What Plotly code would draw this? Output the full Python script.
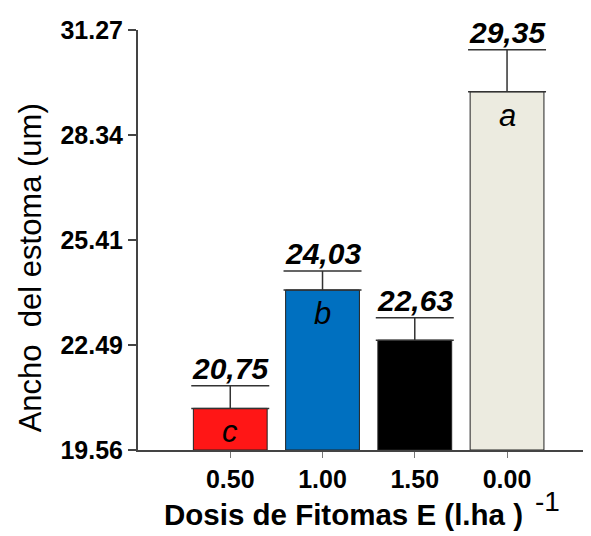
import plotly.graph_objects as go

# treatments (dose l/ha) and stomata width means
dosis = ['0.50', '1.00', '1.50', '0.00']
ancho = [20.72, 24.02, 22.62, 29.55]
error = [0.63, 0.53, 0.63, 1.17]
letras = ['c', 'b', '', 'a']
etiquetas = ['20,75', '24,03', '22,63', '29,35']
colores = ['#FF1616', '#0070C0', '#000000', '#ECEBE0']
yticks = [19.56, 22.49, 25.41, 28.34, 31.27]

pos = [1, 2, 3, 4]
FONT = 'Liberation Sans, Arial'

fig = go.Figure()
fig.add_trace(go.Bar(
    x=pos, y=[v - yticks[0] for v in ancho], base=yticks[0],
    width=0.8,
    marker=dict(color=colores, line=dict(color='#222222', width=1)),
    error_y=dict(type='data', array=error, symmetric=False, arrayminus=[0] * 4,
                 color='#333333', thickness=1.5, width=39),
    hoverinfo='skip',
))

# mean values above the error bars (the cap works as the underline)
for p, v, e, t in zip(pos, ancho, error, etiquetas):
    fig.add_annotation(x=p, y=v + e, text='<b><i>' + t + '</i></b>', showarrow=False,
                       yanchor='bottom', yshift=-1,
                       font=dict(family=FONT, size=30, color='black'))

# significance letters inside the bars
for p, v, l in zip(pos, ancho, letras):
    if l:
        fig.add_annotation(x=p, y=v, text='<i>' + l + '</i>', showarrow=False,
                           yanchor='top', yshift=-4,
                           font=dict(family=FONT, size=31, color='black'))

# axis titles
fig.add_annotation(xref='paper', yref='paper', x=-0.238, y=0.433, text='Ancho  del estoma (um)',
                   textangle=-90, showarrow=False, xanchor='center', yanchor='middle',
                   font=dict(family=FONT, size=31, color='black'))
fig.add_annotation(xref='paper', yref='paper', x=0.453, y=-0.153,
                   text='<b>Dosis de Fitomas E (l.ha )</b>', showarrow=False,
                   xanchor='center', yanchor='middle',
                   font=dict(family=FONT, size=29.5, color='black'))
fig.add_annotation(xref='paper', yref='paper', x=0.903, y=-0.122, text='-1',
                   showarrow=False, xanchor='center', yanchor='middle',
                   font=dict(family=FONT, size=28, color='black'))

fig.update_layout(
    width=591, height=536,
    margin=dict(l=130, r=8, t=17, b=94),
    plot_bgcolor='white', paper_bgcolor='white',
    showlegend=False,
    xaxis=dict(
        range=[0, 4.91], tickvals=pos, ticktext=['<b>' + d + '</b>' for d in dosis],
        showline=True, linecolor='#444444', linewidth=2,
        ticks='outside', ticklen=6, tickcolor='#777777', tickwidth=1,
        showgrid=False, zeroline=False,
        tickfont=dict(family=FONT, size=25, color='black'),
    ),
    yaxis=dict(
        range=[yticks[0], yticks[-1]], tickvals=yticks,
        ticktext=['<b>' + f'{v:.2f}' + '</b>' for v in yticks],
        showline=True, linecolor='#444444', linewidth=2,
        ticks='outside', ticklen=8, tickcolor='#444444', tickwidth=1.5,
        showgrid=False, zeroline=False,
        tickfont=dict(family=FONT, size=25, color='black'),
    ),
)

fig.write_html("out.html")
